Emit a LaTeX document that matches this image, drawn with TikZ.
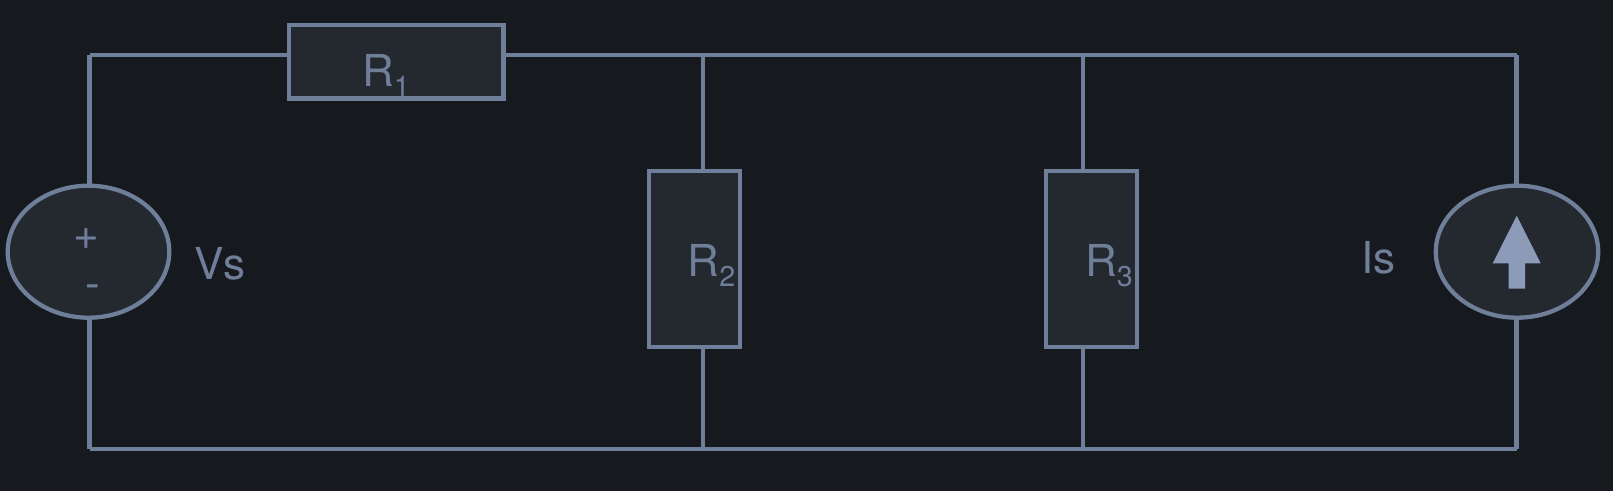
\documentclass[tikz,border=0pt]{standalone}
\usepackage{fontspec}
\setmainfont{TeX Gyre Heros}
\usetikzlibrary{shapes.geometric}
\definecolor{bgc}{HTML}{16191E}
\definecolor{fillc}{HTML}{24282F}
\definecolor{linec}{HTML}{6F7F9A}
\definecolor{arrowc}{HTML}{8B9BB8}
\newcommand{\pxu}{0.75pt}
\newcommand{\txt}{\fontsize{33pt}{38pt}\selectfont}
\newcommand{\subtxt}[1]{\raisebox{-7.5pt}{\fontsize{21.5pt}{24pt}\selectfont #1}}
\tikzset{
  wire/.style={draw=linec,line width=3.2pt},
  resistor/.style={rectangle,draw=linec,fill=fillc,line width=3.2pt,inner sep=0pt,outer sep=0pt},
  source/.style={ellipse,draw=linec,fill=fillc,line width=3.2pt,inner sep=0pt,outer sep=0pt,
    minimum width={161.6*\pxu},minimum height={132*\pxu}},
  label/.style={text=linec,inner sep=0pt,outer sep=0pt,anchor=base west},
}
\begin{document}
\begin{tikzpicture}[x=0.75pt,y=-0.75pt]
\useasboundingbox (0,0) rectangle (1613,491);
\fill[bgc] (0,0) rectangle (1613,491);
% corners and junctions
\coordinate (tl) at (89.5,55);
\coordinate (tr) at (1516.5,55);
\coordinate (bl) at (89.5,448.7);
\coordinate (br) at (1516.5,448.7);
\coordinate (t2) at (703.3,55);
\coordinate (t3) at (1082.7,55);
\coordinate (b2) at (703.3,448.7);
\coordinate (b3) at (1082.7,448.7);
% components
\node[source] (vs) at (88.5,251.7) {};
\node[source,minimum width={162.4*\pxu}] (is) at (1517,251.7) {};
\node[resistor,minimum width={214.6*\pxu},minimum height={73.6*\pxu}] (r1) at (396.3,61.8) {};
\node[resistor,minimum width={91*\pxu},minimum height={176*\pxu}] (r2) at (694.3,259.2) {};
\node[resistor,minimum width={91*\pxu},minimum height={176*\pxu}] (r3) at (1091.7,259.2) {};
% wires
\draw[wire] (tl) -- (tl |- vs.north);
\draw[wire] (tl) -- (tl -| r1.west);
\draw[wire] (tl -| r1.east) -- (tr);
\draw[wire] (tr) -- (tr |- is.north);
\draw[wire] (bl |- vs.south) -- (bl);
\draw[wire] (br |- is.south) -- (br);
\draw[wire] (bl) -- (br);
\draw[wire] (t2) -- (t2 |- r2.north);
\draw[wire] (b2 |- r2.south) -- (b2);
\draw[wire] (t3) -- (t3 |- r3.north);
\draw[wire] (b3 |- r3.south) -- (b3);
% arrow of the current source
\fill[arrowc] (1516.7,215.7) -- (1540.7,263.3) -- (1525,263.3) -- (1525,288.7)
  -- (1508.7,288.7) -- (1508.7,263.3) -- (1492.7,263.3) -- cycle;
% labels
\node[label] (lr1) at (362,86.5) {\txt R\subtxt{1}};
\node[label] (lr2) at (687.5,277) {\txt R\subtxt{2}};
\node[label] (lr3) at (1085,277) {\txt R\subtxt{3}};
\node[label] (lvs) at (194.5,280) {\txt Vs};
\node[label] (lis) at (1361,274) {\txt Is};
\node[label,anchor=base] (plus) at (86,249.5) {\txt +};
\node[label,anchor=base] (minus) at (93,299) {\txt -};
\end{tikzpicture}
\end{document}
